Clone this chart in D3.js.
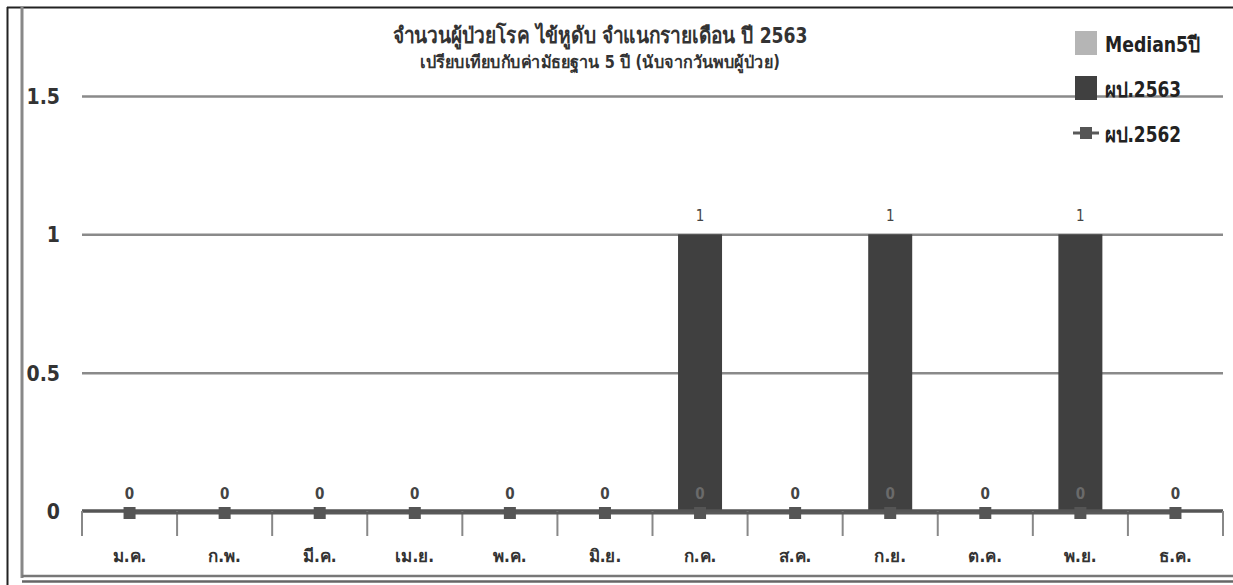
<!DOCTYPE html>
<html>
<head>
<meta charset="utf-8">
<script src="https://cdn.jsdelivr.net/npm/d3@7"></script>
<style>
  body { margin: 0; background: #fff; }
  svg text { font-family: "Liberation Sans Narrow", "DejaVu Sans Condensed", "Noto Sans", sans-serif; font-weight: bold; }
</style>
</head>
<body>
<div id="chart"></div>
<script>
// data
const months = ['ม.ค.', 'ก.พ.', 'มี.ค.', 'เม.ย.', 'พ.ค.', 'มิ.ย.', 'ก.ค.', 'ส.ค.', 'ก.ย.', 'ต.ค.', 'พ.ย.', 'ธ.ค.'];
const median5 = [0, 0, 0, 0, 0, 0, 0, 0, 0, 0, 0, 0];
const cases2563 = [0, 0, 0, 0, 0, 0, 1, 0, 1, 0, 1, 0];
const cases2562 = [0, 0, 0, 0, 0, 0, 0, 0, 0, 0, 0, 0];
const yTicks = [0, 0.5, 1, 1.5];
const seriesNames = ['Median5ปี', 'ผป.2563', 'ผป.2562'];
const titleLines = ['จำนวนผู้ป่วยโรค ไข้หูดับ จำแนกรายเดือน ปี 2563', 'เปรียบเทียบกับค่ามัธยฐาน 5 ปี (นับจากวันพบผู้ป่วย)'];

const width = 1233, height = 585;
const margin = { top: 96, right: 10, bottom: 74, left: 82 };

const svg = d3.select('#chart').append('svg')
  .attr('width', width)
  .attr('height', height);

// frame lines round the picture
svg.append('line').attr('x1', 7).attr('x2', width).attr('y1', 7.5).attr('y2', 7.5)
  .attr('stroke', '#222').attr('stroke-width', 2);
svg.append('line').attr('x1', 7.5).attr('x2', 7.5).attr('y1', 7).attr('y2', height)
  .attr('stroke', '#222').attr('stroke-width', 2);
svg.append('line').attr('x1', 22).attr('x2', 22).attr('y1', 7).attr('y2', 578)
  .attr('stroke', '#888').attr('stroke-width', 3);
svg.append('line').attr('x1', 22).attr('x2', width).attr('y1', 576).attr('y2', 576)
  .attr('stroke', '#777').attr('stroke-width', 2.5);
svg.append('line').attr('x1', 22).attr('x2', width).attr('y1', 581.5).attr('y2', 581.5)
  .attr('stroke', '#666').attr('stroke-width', 2.5);

// scales
const x = d3.scaleBand()
  .domain(months)
  .range([margin.left, width - margin.right])
  .paddingInner(0)
  .paddingOuter(0);

const y = d3.scaleLinear()
  .domain([0, 1.5])
  .range([height - margin.bottom, margin.top]);

const cx = (i) => x(months[i]) + x.bandwidth() / 2;

// gridlines
svg.append('g')
  .attr('transform', `translate(${margin.left},0)`)
  .call(d3.axisLeft(y).tickValues(yTicks.filter((d) => d > 0))
    .tickSize(-(width - margin.left - margin.right)).tickFormat(''))
  .call((g) => g.select('.domain').remove())
  .call((g) => g.selectAll('line').attr('stroke', '#8a8a8a').attr('stroke-width', 2.5));

// y tick labels
svg.append('g')
  .selectAll('text')
  .data(yTicks)
  .enter()
  .append('text')
  .attr('x', 60)
  .attr('y', (d) => y(d) + 8)
  .attr('text-anchor', 'end')
  .style('font-size', '21px')
  .attr('fill', '#333')
  .text((d) => d);

// title
svg.append('text')
  .attr('x', 600).attr('y', 43)
  .attr('text-anchor', 'middle')
  .attr('textLength', 415)
  .attr('lengthAdjust', 'spacingAndGlyphs')
  .style('font-size', '22px')
  .attr('fill', '#333')
  .text(titleLines[0]);
svg.append('text')
  .attr('x', 600).attr('y', 68)
  .attr('text-anchor', 'middle')
  .attr('textLength', 360)
  .attr('lengthAdjust', 'spacingAndGlyphs')
  .style('font-size', '17px')
  .attr('fill', '#333')
  .text(titleLines[1]);

// bars for ผป.2563
const barW = 44;
svg.selectAll('.bar')
  .data(cases2563)
  .enter()
  .append('rect')
  .attr('class', 'bar')
  .attr('x', (d, i) => cx(i) - barW / 2)
  .attr('y', (d) => y(d))
  .attr('width', barW)
  .attr('height', (d) => y(0) - y(d))
  .attr('fill', '#404040');

// bar value labels, only where a bar shows
cases2563.forEach((d, i) => {
  if (d > 0) {
    svg.append('text')
      .attr('x', cx(i))
      .attr('y', y(d) - 13)
      .attr('text-anchor', 'middle')
      .style('font-size', '15px')
      .style('font-weight', 'normal')
      .attr('fill', '#444')
      .text(d);
  }
});

// x axis
const axisG = svg.append('g')
  .attr('transform', `translate(0,${y(0)})`);
axisG.append('line')
  .attr('x1', margin.left).attr('x2', width - margin.right)
  .attr('stroke', '#555').attr('stroke-width', 3.5);
axisG.selectAll('.tick')
  .data(months.concat(['end']))
  .enter()
  .append('line')
  .attr('x1', (d, i) => margin.left + i * x.bandwidth())
  .attr('x2', (d, i) => margin.left + i * x.bandwidth())
  .attr('y1', 0).attr('y2', 25)
  .attr('stroke', '#888').attr('stroke-width', 2);
axisG.selectAll('.mlabel')
  .data(months)
  .enter()
  .append('text')
  .attr('x', (d) => x(d) + x.bandwidth() / 2)
  .attr('y', 51)
  .attr('text-anchor', 'middle')
  .style('font-size', '17px')
  .attr('fill', '#333')
  .text((d) => d);

// line for ผป.2562
const line = d3.line()
  .x((d, i) => cx(i))
  .y((d) => y(d) + 2);
svg.append('path')
  .datum(cases2562)
  .attr('fill', 'none')
  .attr('stroke', '#595959')
  .attr('stroke-width', 3)
  .attr('d', line);
svg.selectAll('.marker')
  .data(cases2562)
  .enter()
  .append('rect')
  .attr('x', (d, i) => cx(i) - 6)
  .attr('y', (d) => y(d) - 4)
  .attr('width', 12)
  .attr('height', 12)
  .attr('fill', '#555');
cases2562.forEach((d, i) => {
  svg.append('text')
    .attr('x', cx(i))
    .attr('y', y(d) - 12)
    .attr('text-anchor', 'middle')
    .style('font-size', '15px')
    .attr('fill', cases2563[i] > 0 ? '#6a6a6a' : '#444')
    .text(d);
});

// legend
const legend = svg.append('g');
legend.append('rect').attr('x', 1075).attr('y', 31).attr('width', 22).attr('height', 24).attr('fill', '#b5b5b5');
legend.append('rect').attr('x', 1075).attr('y', 76).attr('width', 22).attr('height', 24).attr('fill', '#404040');
legend.append('line').attr('x1', 1073).attr('x2', 1099).attr('y1', 133).attr('y2', 133)
  .attr('stroke', '#595959').attr('stroke-width', 3);
legend.append('rect').attr('x', 1080).attr('y', 127).attr('width', 12).attr('height', 12).attr('fill', '#555');
legend.selectAll('.ltext')
  .data(seriesNames)
  .enter()
  .append('text')
  .attr('x', 1105)
  .attr('y', (d, i) => 52 + i * 45)
  .attr('textLength', (d, i) => [95, 76, 76][i])
  .attr('lengthAdjust', 'spacingAndGlyphs')
  .style('font-size', '21px')
  .attr('fill', '#222')
  .text((d) => d);
</script>
</body>
</html>
